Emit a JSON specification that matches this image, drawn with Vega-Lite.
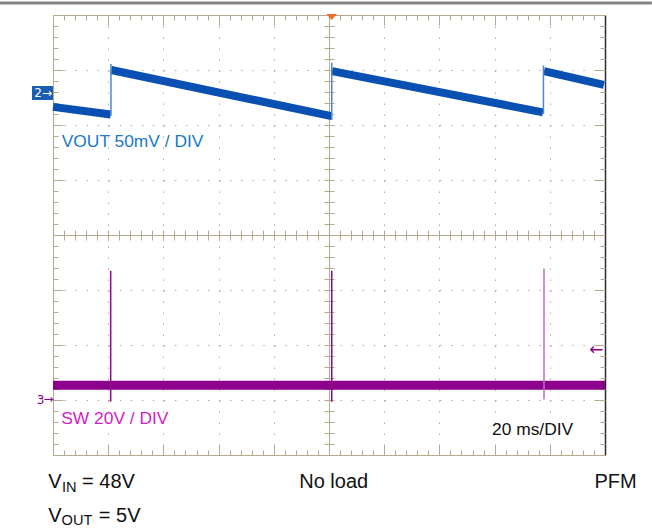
{
  "$schema": "https://vega.github.io/schema/vega-lite/v6.json",
  "width": 552,
  "height": 440,
  "autosize": "none",
  "padding": {"left": 53, "top": 15, "right": 47, "bottom": 74},
  "background": "white",
  "config": {
    "view": {"stroke": null},
    "axis": {"labels": false, "domainColor": "#b4aa8f", "tickColor": "#b4aa8f", "gridColor": "#b4aa8f", "domainWidth": 1, "tickWidth": 1, "grid": false, "domain": false}
  },
  "datasets": {
    "sw": [{"t": 0, "v": 1.27}, {"t": 200, "v": 1.27}],
    "spikes": [
      {"t": 20.9, "v": 0.97, "v2": 3.35, "grade": "latest"},
      {"t": 101.0, "v": 0.97, "v2": 3.35, "grade": "latest"},
      {"t": 177.9, "v": 1.01, "v2": 3.39, "grade": "persisted"}
    ],
    "vout": [
      {"seg": 1, "t": 0, "v": 6.33}, {"seg": 1, "t": 20.9, "v": 6.19},
      {"seg": 2, "t": 21.1, "v": 7.0}, {"seg": 2, "t": 100.9, "v": 6.16},
      {"seg": 3, "t": 101.1, "v": 6.98}, {"seg": 3, "t": 177.5, "v": 6.23},
      {"seg": 4, "t": 177.9, "v": 6.98}, {"seg": 4, "t": 199.6, "v": 6.73}
    ],
    "jumps": [
      {"t": 21.0, "v": 6.17, "v2": 7.11},
      {"t": 101.0, "v": 6.09, "v2": 7.13},
      {"t": 177.7, "v": 6.2, "v2": 7.08}
    ],
    "scopetext": [
      {"t": 3.15, "v": 5.605, "label": "VOUT 50mV / DIV", "channel": "ch2"},
      {"t": 2.97, "v": 0.564, "label": "SW 20V / DIV", "channel": "ch3"},
      {"t": 159.06, "v": 0.364, "label": "20 ms/DIV", "channel": "time"}
    ],
    "bigtext": [
      {"t": -1.74, "v": -0.6, "label": "V"},
      {"t": 10.54, "v": -0.6, "label": "= 48V"},
      {"t": -1.74, "v": -1.213, "label": "V"},
      {"t": 16.6, "v": -1.213, "label": "= 5V"},
      {"t": 89.2, "v": -0.6, "label": "No load"},
      {"t": 196.2, "v": -0.6, "label": "PFM"}
    ],
    "subtext": [
      {"t": 3.26, "v": -0.664, "label": "IN"},
      {"t": 3.12, "v": -1.27, "label": "OUT"}
    ],
    "box": [{"t": -7.61, "t2": 0, "v": 6.455, "v2": 6.709}],
    "boxtext": [{"t": -5.43, "v": 6.58, "label": "2"}, {"t": -2.17, "v": 6.58, "label": "→"}],
    "ch3marker": [{"t": -4.53, "v": 1.0, "label": "3"}, {"t": -1.63, "v": 1.02, "label": "→"}],
    "leftarrow": [{"t": 196.9, "v": 1.91, "label": "←"}],
    "trigger": [{"t": 100.97, "v": 7.964}],
    "topbar": [{"t": -19.2, "t2": 217.0, "v": 8.218}]
  },
  "encoding": {
    "x": {"field": "t", "type": "quantitative", "scale": {"domain": [0, 200], "nice": false, "zero": false}, "axis": null},
    "y": {"field": "v", "type": "quantitative", "scale": {"domain": [0, 8], "nice": false, "zero": false}, "axis": null}
  },
  "layer": [
    {
      "data": {"name": "sw"},
      "mark": {"type": "line", "color": "#8c008c", "strokeWidth": 9, "strokeCap": "butt"},
      "encoding": {
        "x": {"field": "t", "type": "quantitative", "scale": {"domain": [0, 200], "nice": false, "zero": false},
          "axis": {"orient": "bottom", "title": null, "values": [0,20,40,60,80,100,120,140,160,180,200], "tickSize": -10, "domain": true, "grid": true, "gridDash": [1.5, 9.5]}},
        "y": {"field": "v", "type": "quantitative", "scale": {"domain": [0, 8], "nice": false, "zero": false},
          "axis": {"orient": "left", "title": null, "values": [0,1,2,3,4,5,6,7,8], "tickSize": -10, "domain": true, "grid": true, "gridDash": [1.5, 9.54]}}
      }
    },
    {
      "data": {"name": "spikes"},
      "mark": {"type": "rule", "strokeWidth": 1.5},
      "encoding": {
        "x": {"field": "t", "type": "quantitative", "scale": {"domain": [0, 200], "nice": false, "zero": false},
          "axis": {"orient": "bottom", "title": null, "values": [0,4,8,12,16,20,24,28,32,36,40,44,48,52,56,60,64,68,72,76,80,84,88,92,96,100,104,108,112,116,120,124,128,132,136,140,144,148,152,156,160,164,168,172,176,180,184,188,192,196,200], "tickSize": -5}},
        "y": {"field": "v", "type": "quantitative", "scale": {"domain": [0, 8], "nice": false, "zero": false},
          "axis": {"orient": "left", "title": null, "values": [0,0.2,0.4,0.6,0.8,1,1.2,1.4,1.6,1.8,2,2.2,2.4,2.6,2.8,3,3.2,3.4,3.6,3.8,4,4.2,4.4,4.6,4.8,5,5.2,5.4,5.6,5.8,6,6.2,6.4,6.6,6.8,7,7.2,7.4,7.6,7.8,8], "tickSize": -5}},
        "y2": {"field": "v2"},
        "color": {"field": "grade", "type": "nominal", "scale": {"domain": ["latest", "persisted"], "range": ["#8c0a8c", "#c46ac4"]}, "legend": null}
      }
    },
    {
      "data": {"name": "vout"},
      "mark": {"type": "line", "color": "#0a50b2", "strokeWidth": 8, "strokeCap": "butt"},
      "encoding": {
        "x": {"field": "t", "type": "quantitative", "scale": {"domain": [0, 200], "nice": false, "zero": false},
          "axis": {"orient": "top", "title": null, "values": [0,20,40,60,80,100,120,140,160,180,200], "tickSize": -10, "domain": true}},
        "y": {"field": "v", "type": "quantitative", "scale": {"domain": [0, 8], "nice": false, "zero": false},
          "axis": {"orient": "right", "title": null, "values": [0,1,2,3,4,5,6,7,8], "tickSize": -10, "domain": true, "domainColor": "#2b2b2b", "domainWidth": 1.5}},
        "detail": {"field": "seg", "type": "nominal"}
      }
    },
    {
      "data": {"name": "jumps"},
      "mark": {"type": "rule", "color": "#4f85cf", "strokeWidth": 1.5},
      "encoding": {
        "x": {"field": "t", "type": "quantitative", "scale": {"domain": [0, 200], "nice": false, "zero": false},
          "axis": {"orient": "top", "title": null, "values": [0,4,8,12,16,20,24,28,32,36,40,44,48,52,56,60,64,68,72,76,80,84,88,92,96,100,104,108,112,116,120,124,128,132,136,140,144,148,152,156,160,164,168,172,176,180,184,188,192,196,200], "tickSize": -5}},
        "y": {"field": "v", "type": "quantitative", "scale": {"domain": [0, 8], "nice": false, "zero": false},
          "axis": {"orient": "right", "title": null, "values": [0,0.2,0.4,0.6,0.8,1,1.2,1.4,1.6,1.8,2,2.2,2.4,2.6,2.8,3,3.2,3.4,3.6,3.8,4,4.2,4.4,4.6,4.8,5,5.2,5.4,5.6,5.8,6,6.2,6.4,6.6,6.8,7,7.2,7.4,7.6,7.8,8], "tickSize": -5}},
        "y2": {"field": "v2"}
      }
    },
    {
      "data": {"name": "scopetext"},
      "mark": {"type": "text", "align": "left", "baseline": "alphabetic", "font": "Liberation Sans", "fontSize": 17.4},
      "encoding": {
        "x": {"field": "t", "type": "quantitative", "scale": {"domain": [0, 200], "nice": false, "zero": false},
          "axis": {"orient": "bottom", "offset": -220, "title": null, "values": [0,4,8,12,16,20,24,28,32,36,40,44,48,52,56,60,64,68,72,76,80,84,88,92,96,100,104,108,112,116,120,124,128,132,136,140,144,148,152,156,160,164,168,172,176,180,184,188,192,196,200], "tickSize": 5, "domain": true}},
        "y": {"field": "v", "type": "quantitative", "scale": {"domain": [0, 8], "nice": false, "zero": false},
          "axis": {"orient": "left", "offset": -276, "title": null, "values": [0,0.2,0.4,0.6,0.8,1,1.2,1.4,1.6,1.8,2,2.2,2.4,2.6,2.8,3,3.2,3.4,3.6,3.8,4,4.2,4.4,4.6,4.8,5,5.2,5.4,5.6,5.8,6,6.2,6.4,6.6,6.8,7,7.2,7.4,7.6,7.8,8], "tickSize": 5, "domain": true}},
        "text": {"field": "label"},
        "color": {"field": "channel", "type": "nominal", "scale": {"domain": ["ch2", "ch3", "time"], "range": ["#1a78c8", "#d21ec6", "#111111"]}, "legend": null}
      }
    },
    {
      "data": {"name": "bigtext"},
      "mark": {"type": "text", "align": "left", "baseline": "alphabetic", "font": "Liberation Sans", "fontSize": 20, "color": "#111111"},
      "encoding": {
        "x": {"field": "t", "type": "quantitative", "scale": {"domain": [0, 200], "nice": false, "zero": false},
          "axis": {"orient": "top", "offset": -220, "title": null, "values": [0,4,8,12,16,20,24,28,32,36,40,44,48,52,56,60,64,68,72,76,80,84,88,92,96,100,104,108,112,116,120,124,128,132,136,140,144,148,152,156,160,164,168,172,176,180,184,188,192,196,200], "tickSize": 5}},
        "y": {"field": "v", "type": "quantitative", "scale": {"domain": [0, 8], "nice": false, "zero": false},
          "axis": {"orient": "right", "offset": -276, "title": null, "values": [0,0.2,0.4,0.6,0.8,1,1.2,1.4,1.6,1.8,2,2.2,2.4,2.6,2.8,3,3.2,3.4,3.6,3.8,4,4.2,4.4,4.6,4.8,5,5.2,5.4,5.6,5.8,6,6.2,6.4,6.6,6.8,7,7.2,7.4,7.6,7.8,8], "tickSize": 5}},
        "text": {"field": "label"}
      }
    },
    {
      "data": {"name": "subtext"},
      "mark": {"type": "text", "align": "left", "baseline": "alphabetic", "font": "Liberation Sans", "fontSize": 14.6, "color": "#111111"},
      "encoding": {"text": {"field": "label"}}
    },
    {
      "data": {"name": "box"},
      "mark": {"type": "rect", "color": "#1a5db4"},
      "encoding": {"x2": {"field": "t2"}, "y2": {"field": "v2"}}
    },
    {
      "data": {"name": "boxtext"},
      "mark": {"type": "text", "align": "center", "baseline": "middle", "font": "DejaVu Sans", "fontSize": 12, "color": "white"},
      "encoding": {"text": {"field": "label"}}
    },
    {
      "data": {"name": "ch3marker"},
      "mark": {"type": "text", "align": "center", "baseline": "middle", "font": "DejaVu Sans", "fontSize": 12, "color": "#8c008c"},
      "encoding": {"text": {"field": "label"}}
    },
    {
      "data": {"name": "leftarrow"},
      "mark": {"type": "text", "align": "center", "baseline": "middle", "font": "DejaVu Sans", "fontSize": 17, "color": "#8c008c"},
      "encoding": {"text": {"field": "label"}}
    },
    {
      "data": {"name": "trigger"},
      "mark": {"type": "point", "shape": "M-1,-0.55L1,-0.55L0,0.55Z", "size": 112, "filled": true, "color": "#f26b2a", "opacity": 1},
      "encoding": {}
    },
    {
      "data": {"name": "topbar"},
      "mark": {"type": "rule", "color": "#858585", "strokeWidth": 3},
      "encoding": {"x2": {"field": "t2"}}
    }
  ],
  "resolve": {"axis": {"x": "independent", "y": "independent"}, "scale": {"color": "independent"}}
}
